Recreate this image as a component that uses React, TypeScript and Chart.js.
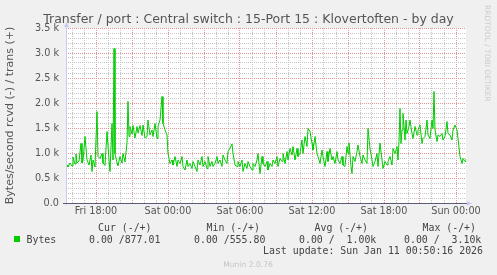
import React, { useEffect, useRef } from 'react';
import { Chart, registerables } from 'chart.js';

Chart.register(...registerables);

// ---- time axis (hours counted from Fri 00:00) ----
const START_HOUR = 15.5; // Fri 15:30
const END_HOUR = 48 + 50 / 60; // Sun 00:50
const SAMPLE_HOURS = 5 / 60; // 5-minute samples

// ---- series: trans (+) in bytes/second, by 5-minute sample index from start ----
const sampleIndex = [
  0, 1, 2, 4, 6, 7, 9, 10, 11, 13, 15, 16, 17, 19, 21, 23, 25, 26, 27, 29,
  31, 32, 34, 36, 37, 39, 41, 43, 44, 46, 47, 48, 49, 51, 52, 54, 56, 57, 59, 61,
  62, 63, 64, 66, 67, 69, 71, 72, 74, 76, 77, 79, 81, 82, 84, 86, 87, 89, 91, 92,
  94, 96, 97, 99, 101, 102, 104, 106, 107, 109, 111, 112, 114, 116, 117, 119, 121, 122, 124, 126,
  127, 129, 131, 132, 134, 136, 137, 139, 141, 142, 144, 146, 147, 149, 151, 152, 154, 156, 157, 159,
  161, 162, 164, 166, 167, 169, 171, 172, 174, 176, 177, 179, 181, 182, 184, 186, 187, 189, 191, 192,
  194, 196, 197, 199, 201, 202, 204, 206, 207, 209, 211, 212, 214, 216, 217, 219, 221, 222, 224, 226,
  227, 229, 231, 232, 234, 236, 237, 239, 241, 242, 244, 246, 247, 249, 251, 252, 254, 256, 257, 259,
  261, 262, 264, 266, 267, 269, 271, 272, 274, 276, 277, 279, 281, 282, 283, 285, 286, 287, 289, 291,
  292, 294, 296, 297, 299, 301, 302, 304, 306, 307, 309, 311, 312, 314, 316, 317, 319, 321, 322, 324,
  326, 327, 329, 331, 332, 333, 334, 335, 336, 337, 339, 340, 341, 343, 344, 346, 347, 349, 351, 352,
  354, 356, 357, 359, 361, 362, 364, 366, 367, 368, 369, 371, 372, 374, 376, 377, 379, 381, 382, 384,
  386, 387, 389, 391, 392, 394, 396, 397, 399, 400,
];
const transBytes = [
  750, 760, 720, 800, 740, 920, 780, 980, 800, 840, 1190, 800, 850, 1330, 860, 760, 960, 630, 860, 720,
  1830, 930, 890, 990, 800, 750, 1430, 860, 630, 1590, 860, 3090, 990, 800, 750, 930, 800, 990, 820, 1200,
  2030, 1330, 1530, 1380, 1550, 1300, 1530, 1400, 1550, 1350, 1560, 1300, 1330, 1660, 1360, 1460, 1330, 1590, 1290, 1530,
  1660, 2130, 1590, 1460, 1360, 990, 790, 860, 760, 930, 730, 860, 790, 930, 730, 660, 860, 730, 790, 690,
  830, 730, 630, 860, 760, 930, 730, 830, 690, 930, 730, 830, 730, 790, 930, 790, 860, 730, 960, 860,
  790, 1030, 1100, 1180, 990, 760, 730, 830, 730, 860, 630, 790, 690, 830, 730, 660, 790, 730, 860, 990,
  590, 930, 790, 730, 830, 660, 790, 730, 860, 790, 930, 730, 890, 830, 990, 790, 1030, 860, 1090, 960,
  1130, 860, 1090, 930, 1000, 1260, 990, 1330, 1130, 1490, 1430, 1190, 1060, 1330, 990, 930, 790, 1060, 930, 730,
  1030, 830, 1090, 860, 930, 790, 1030, 860, 790, 930, 760, 730, 1130, 990, 1200, 730, 590, 930, 830, 1030,
  1160, 930, 790, 960, 860, 790, 1490, 1090, 860, 730, 830, 990, 730, 1200, 860, 690, 830, 760, 830, 930,
  760, 1090, 990, 1130, 860, 1230, 1890, 1190, 1460, 1790, 1260, 1660, 1390, 1530, 1660, 1390, 1290, 1530, 1360, 1460,
  1560, 1190, 1290, 1330, 1660, 1360, 1290, 1660, 1490, 2230, 1460, 1230, 1360, 1330, 1390, 1260, 1330, 1630, 1390, 1360,
  1260, 1460, 1560, 1460, 1290, 930, 790, 890, 830, 890,
];

// ---- axes ----
const xTickHours = [18, 24, 30, 36, 42, 48];
const xTickLabels = ['Fri 18:00', 'Sat 00:00', 'Sat 06:00', 'Sat 12:00', 'Sat 18:00', 'Sun 00:00'];
const yTickValues = [0, 500, 1000, 1500, 2000, 2500, 3000, 3500];
const yTickLabels = ['0.0', '0.5 k', '1.0 k', '1.5 k', '2.0 k', '2.5 k', '3.0 k', '3.5 k'];
const Y_MAX = 3500;
const Y_MINOR_STEP = 100;

// ---- texts ----
const titleText = 'Transfer / port : Central switch : 15-Port 15 : Klovertoften - by day';
const yTitleText = 'Bytes/second rcvd (-) / trans (+)';
const seriesName = 'Bytes';
const legendHeaders = ['Cur (-/+)', 'Min (-/+)', 'Avg (-/+)', 'Max (-/+)'];
const legendValues = ['0.00 /877.01', '0.00 /555.80', '0.00 /  1.00k', '0.00 /  3.10k'];
const lastUpdateText = 'Last update: Sun Jan 11 00:50:16 2026';
const footerText = 'Munin 2.0.76';
const watermarkText = 'RRDTOOL / TOBI OETIKER';

// ---- styles ----
const GREEN = '#00cc00';
const BG = '#f0f0f0';
const MINOR = '#c6c6c6';
const MAJOR = '#e49494';
const TEXT = '#555555';
const SANS = '"DejaVu Sans", sans-serif';
const MONO = '"DejaVu Sans Mono", monospace';

export default function App() {
  const ref = useRef<HTMLCanvasElement>(null);

  useEffect(() => {
    document.body.style.margin = '0';
    const canvas = ref.current;
    if (!canvas) return;

    const points = sampleIndex.map((s, i) => ({ x: START_HOUR + s * SAMPLE_HOURS, y: transBytes[i] }));

    const hourGrid: number[] = [];
    for (let h = Math.ceil(START_HOUR); h <= Math.floor(END_HOUR); h++) hourGrid.push(h);
    const yGrid: number[] = [];
    for (let v = 0; v <= Y_MAX; v += Y_MINOR_STEP) yGrid.push(v);

    const decor = {
      id: 'muninDecor',
      beforeDraw(chart: any) {
        const { ctx, chartArea: a } = chart;
        ctx.save();
        ctx.fillStyle = BG;
        ctx.fillRect(0, 0, chart.width, chart.height);
        ctx.fillStyle = '#ffffff';
        ctx.fillRect(a.left, a.top, a.right - a.left, a.bottom - a.top);
        ctx.restore();
      },
      afterDatasetsDraw(chart: any) {
        const { ctx, chartArea: a } = chart;
        ctx.save();
        // left axis
        ctx.strokeStyle = '#c8ccf4';
        ctx.lineWidth = 1;
        ctx.beginPath();
        ctx.moveTo(a.left + 0.5, a.bottom + 2);
        ctx.lineTo(a.left + 0.5, a.top - 3);
        ctx.stroke();
        ctx.fillStyle = '#c8ccf4';
        ctx.beginPath();
        ctx.moveTo(a.left - 2, a.top - 1);
        ctx.lineTo(a.left + 3, a.top - 1);
        ctx.lineTo(a.left + 0.5, a.top - 6);
        ctx.closePath();
        ctx.fill();
        // bottom axis
        ctx.strokeStyle = '#5c5c78';
        ctx.beginPath();
        ctx.moveTo(a.left - 3, a.bottom + 0.5);
        ctx.lineTo(a.right + 2, a.bottom + 0.5);
        ctx.stroke();
        ctx.fillStyle = '#c8ccf4';
        ctx.beginPath();
        ctx.moveTo(a.right + 1, a.bottom - 2);
        ctx.lineTo(a.right + 1, a.bottom + 3);
        ctx.lineTo(a.right + 6, a.bottom + 0.5);
        ctx.closePath();
        ctx.fill();
        ctx.restore();
      },
      afterDraw(chart: any) {
        const { ctx } = chart;
        ctx.save();
        // title
        ctx.fillStyle = TEXT;
        ctx.font = `12.5px ${SANS}`;
        ctx.textAlign = 'center';
        ctx.textBaseline = 'alphabetic';
        ctx.fillText(titleText, 248.5, 23);
        // watermark
        ctx.save();
        ctx.fillStyle = '#cccccc';
        ctx.font = `7.5px ${SANS}`;
        ctx.textAlign = 'left';
        ctx.textBaseline = 'middle';
        ctx.translate(486.5, 5);
        ctx.rotate(Math.PI / 2);
        ctx.fillText(watermarkText, 0, 0);
        ctx.restore();
        // legend
        ctx.font = `9.9px ${MONO}`;
        ctx.fillStyle = '#444444';
        ctx.textAlign = 'left';
        const headerX = [98, 206.5, 314.5, 422.5];
        const valueX = [89, 194, 299, 404];
        legendHeaders.forEach((t, i) => ctx.fillText(t, headerX[i], 231));
        legendValues.forEach((t, i) => ctx.fillText(t, valueX[i], 242.5));
        ctx.fillText(seriesName, 26.5, 242.5);
        ctx.textAlign = 'right';
        ctx.fillText(lastUpdateText, 483, 254);
        ctx.fillStyle = GREEN;
        ctx.fillRect(14, 236, 6, 6);
        // footer
        ctx.fillStyle = '#c4c4c4';
        ctx.font = `7.6px ${SANS}`;
        ctx.textAlign = 'center';
        ctx.fillText(footerText, 248, 267);
        ctx.restore();
      },
    };

    const chart = new Chart(canvas, {
      type: 'line',
      data: {
        datasets: [
          {
            label: seriesName,
            data: points,
            borderColor: GREEN,
            borderWidth: 1,
            pointRadius: 0,
            tension: 0,
            fill: false,
          },
        ],
      },
      options: {
        animation: false,
        responsive: false,
        devicePixelRatio: 1,
        events: [],
        layout: { padding: { left: 0, right: 31, top: 28, bottom: 52 } },
        plugins: { legend: { display: false }, tooltip: { enabled: false }, title: { display: false } },
        scales: {
          x: {
            type: 'linear',
            min: START_HOUR,
            max: END_HOUR,
            afterBuildTicks: (s: any) => {
              s.ticks = hourGrid.map((v) => ({ value: v }));
            },
            afterFit: (s: any) => {
              s.height = 20;
            },
            ticks: {
              autoSkip: false,
              maxRotation: 0,
              padding: 3,
              color: TEXT,
              font: { family: SANS, size: 9.7 },
              callback: (v: any) => {
                const i = xTickHours.indexOf(Number(v));
                return i >= 0 ? xTickLabels[i] : '';
              },
            },
            grid: {
              drawTicks: false,
              lineWidth: 1,
              color: (c: any) => (c.tick && Math.round(c.tick.value) % 3 === 0 ? MAJOR : MINOR),
            },
            border: { display: false, dash: [1, 1] },
          },
          y: {
            type: 'linear',
            min: 0,
            max: Y_MAX,
            afterBuildTicks: (s: any) => {
              s.ticks = yGrid.map((v) => ({ value: v }));
            },
            afterFit: (s: any) => {
              s.width = 66;
            },
            ticks: {
              autoSkip: false,
              padding: 7,
              color: TEXT,
              font: { family: SANS, size: 9.7 },
              callback: (v: any) => {
                const i = yTickValues.indexOf(Number(v));
                return i >= 0 ? yTickLabels[i] : '';
              },
            },
            grid: {
              drawTicks: false,
              lineWidth: 1,
              color: (c: any) => (c.tick && Math.round(c.tick.value) % 500 === 0 ? MAJOR : MINOR),
            },
            border: { display: false, dash: [1, 1] },
            title: {
              display: true,
              text: yTitleText,
              color: TEXT,
              font: { family: SANS, size: 11 },
              padding: { top: 4, bottom: 0 },
            },
          },
        },
      },
      plugins: [decor],
    } as any);

    return () => chart.destroy();
  }, []);

  return (
    <div style={{ position: 'absolute', left: 0, top: 0, width: 497, height: 275, background: BG }}>
      <canvas ref={ref} width={497} height={275} style={{ display: 'block', width: 497, height: 275 }} />
    </div>
  );
}
